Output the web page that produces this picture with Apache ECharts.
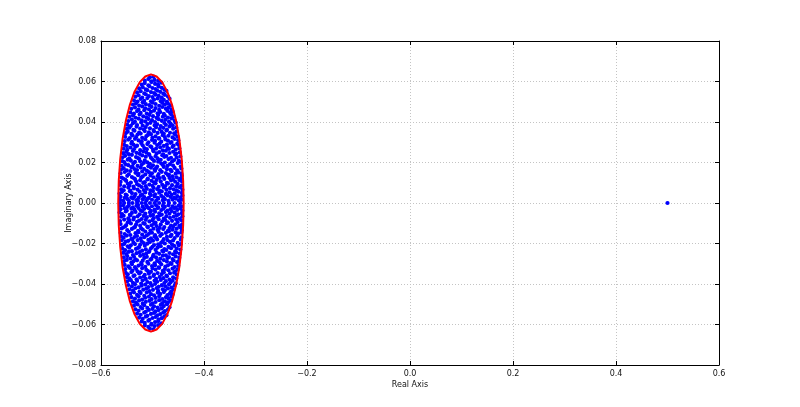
<!DOCTYPE html>
<html>
<head>
<meta charset="utf-8">
<script src="https://cdn.jsdelivr.net/npm/echarts@6/dist/echarts.min.js"></script>
<style>
  html, body { margin: 0; padding: 0; background: #fff; }
  #chart { width: 800px; height: 407px; }
</style>
</head>
<body>
<div id="chart"></div>
<script>
// ---- Data ----
const xTicks = [-0.6, -0.4, -0.2, 0.0, 0.2, 0.4, 0.6];
const yTicks = [-0.08, -0.06, -0.04, -0.02, 0.0, 0.02, 0.04, 0.06, 0.08];
const xAxisTitle = 'Real Axis';
const yAxisTitle = 'Imaginary Axis';

// eigenvalues lying on the real axis (imaginary part 0)
const realAxisEigs = [-.563, -.555, -.546, -.539, -.530, -.521, -.514, -.505, -.496, -.487, -.478, -.468, -.457, -.446];

// complex eigenvalues, upper half plane [real, imag]; their conjugates form the lower half
const upperEigs = [
[-.563,.0015],[-.557,.0011],[-.549,.0020],[-.546,.0013],[-.538,.0022],[-.531,.0014],[-.528,.0010],[-.519,.0018],[-.512,.0012],[-.509,.0022],[-.501,.0016],[-.493,.0011],[-.489,.0021],[-.480,.0014],[-.476,.0019],[-.469,.0011],[-.461,.0017],[-.455,.0022],[-.449,.0013],[-.443,.0016],
[-.562,.0031],[-.554,.0026],[-.550,.0038],[-.541,.0028],[-.535,.0033],[-.527,.0025],[-.523,.0036],[-.516,.0029],[-.507,.0026],[-.503,.0039],[-.496,.0032],[-.490,.0025],[-.483,.0035],[-.479,.0028],[-.471,.0038],[-.465,.0030],[-.458,.0025],[-.452,.0034],[-.446,.0027],[-.442,.0037],
[-.564,.0047],[-.559,.0055],[-.552,.0042],[-.544,.0058],[-.540,.0049],[-.533,.0044],[-.525,.0056],[-.520,.0041],[-.514,.0052],[-.505,.0046],[-.499,.0059],[-.495,.0043],[-.487,.0051],[-.482,.0057],[-.474,.0045],[-.467,.0053],[-.463,.0040],[-.457,.0048],[-.450,.0056],[-.443,.0050],
[-.561,.0068],[-.556,.0063],[-.547,.0076],[-.543,.0061],[-.536,.0072],[-.529,.0066],[-.521,.0079],[-.517,.0064],[-.511,.0070],[-.504,.0062],[-.498,.0075],[-.491,.0069],[-.486,.0061],[-.478,.0077],[-.473,.0065],[-.466,.0073],[-.459,.0068],[-.453,.0062],[-.447,.0078],[-.442,.0066],
[-.563,.0089],[-.555,.0082],[-.548,.0095],[-.545,.0086],[-.537,.0081],[-.530,.0093],[-.526,.0087],[-.518,.0099],[-.513,.0083],[-.506,.0091],[-.500,.0085],[-.494,.0097],[-.488,.0080],[-.481,.0090],[-.475,.0084],[-.470,.0096],[-.462,.0088],[-.454,.0082],[-.451,.0094],[-.443,.0087],
[-.562,.0104],[-.553,.0115],[-.551,.0109],[-.542,.0101],[-.534,.0118],[-.532,.0107],[-.524,.0112],[-.515,.0103],[-.510,.0116],[-.502,.0110],[-.497,.0102],[-.492,.0114],[-.484,.0106],[-.477,.0119],[-.472,.0100],[-.464,.0111],[-.460,.0117],[-.456,.0105],[-.448,.0113],[-.443,.0108],
[-.560,.0126],[-.557,.0121],[-.549,.0134],[-.540,.0128],[-.536,.0122],[-.528,.0137],[-.522,.0125],[-.519,.0131],[-.509,.0120],[-.504,.0136],[-.498,.0127],[-.490,.0133],[-.486,.0123],[-.479,.0129],[-.470,.0138],[-.467,.0124],[-.461,.0132],[-.453,.0127],[-.446,.0121],[-.443,.0135],
[-.562,.0147],[-.554,.0153],[-.546,.0142],[-.543,.0158],[-.533,.0149],[-.527,.0144],[-.520,.0156],[-.514,.0141],[-.507,.0152],[-.501,.0147],[-.495,.0159],[-.488,.0143],[-.482,.0154],[-.474,.0148],[-.468,.0140],[-.463,.0157],[-.455,.0145],[-.450,.0151],[-.444,.0146],
[-.561,.0165],[-.556,.0172],[-.550,.0161],[-.541,.0177],[-.535,.0168],[-.530,.0163],[-.523,.0175],[-.516,.0169],[-.511,.0160],[-.503,.0174],[-.496,.0166],[-.493,.0171],[-.485,.0162],[-.478,.0178],[-.472,.0167],[-.465,.0164],[-.457,.0173],[-.452,.0161],[-.444,.0170],
[-.560,.0184],[-.552,.0191],[-.547,.0187],[-.539,.0181],[-.537,.0196],[-.529,.0183],[-.521,.0189],[-.517,.0198],[-.508,.0182],[-.505,.0193],[-.499,.0186],[-.491,.0180],[-.483,.0195],[-.480,.0188],[-.471,.0183],[-.466,.0192],[-.460,.0185],[-.451,.0197],[-.445,.0181],
[-.559,.0207],[-.555,.0202],[-.548,.0214],[-.542,.0209],[-.534,.0203],[-.526,.0218],[-.524,.0206],[-.515,.0211],[-.510,.0201],[-.500,.0216],[-.497,.0208],[-.489,.0204],[-.484,.0213],[-.476,.0200],[-.469,.0217],[-.462,.0205],[-.458,.0212],[-.449,.0209],[-.445,.0203],
[-.558,.0226],[-.553,.0233],[-.545,.0221],[-.540,.0238],[-.532,.0227],[-.528,.0222],[-.520,.0235],[-.513,.0229],[-.506,.0237],[-.503,.0224],[-.494,.0231],[-.490,.0220],[-.481,.0236],[-.477,.0228],[-.473,.0232],[-.464,.0223],[-.456,.0239],[-.453,.0225],[-.446,.0230],
[-.557,.0246],[-.551,.0252],[-.546,.0241],[-.538,.0257],[-.531,.0248],[-.525,.0243],[-.518,.0255],[-.512,.0249],[-.507,.0242],[-.498,.0256],[-.492,.0245],[-.487,.0251],[-.479,.0240],[-.474,.0258],[-.467,.0247],[-.460,.0253],[-.454,.0244],[-.447,.0250],
[-.556,.0268],[-.549,.0262],[-.543,.0274],[-.536,.0265],[-.533,.0278],[-.524,.0261],[-.516,.0271],[-.511,.0266],[-.502,.0276],[-.499,.0263],[-.493,.0269],[-.485,.0275],[-.480,.0260],[-.471,.0272],[-.468,.0267],[-.461,.0277],[-.455,.0264],[-.448,.0270],
[-.555,.0287],[-.550,.0281],[-.541,.0294],[-.537,.0288],[-.530,.0283],[-.522,.0296],[-.519,.0285],[-.510,.0291],[-.504,.0280],[-.496,.0298],[-.491,.0286],[-.486,.0293],[-.478,.0282],[-.472,.0289],[-.465,.0297],[-.459,.0284],[-.452,.0292],[-.449,.0287],
[-.554,.0306],[-.547,.0313],[-.540,.0302],[-.534,.0317],[-.527,.0309],[-.521,.0304],[-.514,.0315],[-.508,.0300],[-.501,.0311],[-.495,.0307],[-.488,.0318],[-.483,.0303],[-.475,.0314],[-.470,.0308],[-.463,.0301],[-.457,.0316],[-.450,.0310],
[-.553,.0327],[-.544,.0321],[-.539,.0334],[-.532,.0325],[-.529,.0338],[-.520,.0322],[-.512,.0330],[-.509,.0336],[-.500,.0323],[-.494,.0329],[-.487,.0320],[-.480,.0335],[-.476,.0326],[-.469,.0332],[-.461,.0324],[-.456,.0337],[-.451,.0328],
[-.552,.0345],[-.548,.0352],[-.541,.0341],[-.535,.0357],[-.526,.0348],[-.523,.0343],[-.515,.0355],[-.507,.0349],[-.503,.0340],[-.497,.0354],[-.490,.0346],[-.482,.0351],[-.478,.0342],[-.473,.0358],[-.466,.0347],[-.458,.0344],[-.453,.0353],
[-.550,.0366],[-.545,.0372],[-.537,.0361],[-.531,.0377],[-.524,.0368],[-.517,.0363],[-.513,.0375],[-.505,.0369],[-.498,.0360],[-.493,.0374],[-.486,.0365],[-.479,.0371],[-.472,.0362],[-.467,.0378],[-.460,.0367],[-.454,.0373],
[-.549,.0387],[-.542,.0381],[-.538,.0394],[-.530,.0385],[-.522,.0398],[-.519,.0382],[-.510,.0390],[-.504,.0396],[-.496,.0383],[-.491,.0389],[-.484,.0380],[-.477,.0395],[-.474,.0386],[-.465,.0392],[-.461,.0384],[-.455,.0397],
[-.547,.0405],[-.540,.0412],[-.534,.0401],[-.527,.0417],[-.521,.0408],[-.514,.0403],[-.508,.0415],[-.501,.0409],[-.495,.0400],[-.488,.0414],[-.482,.0406],[-.475,.0411],[-.468,.0402],[-.463,.0418],[-.457,.0407],
[-.545,.0426],[-.538,.0432],[-.533,.0421],[-.525,.0437],[-.518,.0428],[-.512,.0423],[-.506,.0435],[-.499,.0429],[-.492,.0420],[-.489,.0434],[-.480,.0426],[-.476,.0431],[-.470,.0422],[-.464,.0438],[-.459,.0427],
[-.543,.0447],[-.536,.0441],[-.530,.0454],[-.523,.0445],[-.516,.0458],[-.511,.0442],[-.503,.0450],[-.497,.0456],[-.490,.0443],[-.485,.0449],[-.478,.0440],[-.471,.0455],[-.466,.0446],[-.461,.0452],
[-.541,.0465],[-.534,.0472],[-.527,.0461],[-.520,.0477],[-.514,.0468],[-.507,.0463],[-.502,.0475],[-.494,.0469],[-.487,.0460],[-.481,.0474],[-.474,.0466],[-.469,.0471],[-.463,.0462],
[-.538,.0486],[-.532,.0492],[-.526,.0481],[-.519,.0497],[-.513,.0488],[-.506,.0483],[-.500,.0495],[-.494,.0489],[-.487,.0480],[-.481,.0494],[-.476,.0486],[-.470,.0491],[-.465,.0482],
[-.536,.0507],[-.529,.0501],[-.523,.0514],[-.516,.0505],[-.510,.0518],[-.503,.0502],[-.497,.0510],[-.490,.0516],[-.484,.0503],[-.478,.0509],[-.472,.0500],[-.467,.0515],
[-.533,.0525],[-.527,.0532],[-.520,.0521],[-.513,.0537],[-.507,.0528],[-.500,.0523],[-.494,.0535],[-.488,.0529],[-.482,.0520],[-.476,.0534],[-.470,.0526],
[-.530,.0546],[-.523,.0552],[-.516,.0541],[-.510,.0557],[-.503,.0548],[-.497,.0543],[-.491,.0555],[-.485,.0549],[-.479,.0540],[-.473,.0554],
[-.526,.0566],[-.519,.0572],[-.513,.0561],[-.506,.0577],[-.500,.0568],[-.494,.0563],[-.488,.0575],[-.482,.0569],[-.477,.0560],
[-.521,.0585],[-.515,.0592],[-.508,.0581],[-.502,.0597],[-.495,.0588],[-.489,.0583],[-.483,.0594],
[-.515,.0605],[-.508,.0612],[-.502,.0601],[-.496,.0608],[-.489,.0603],
[-.505,.0621],[-.498,.0624]
];

// isolated eigenvalue
const outlierReal = [0.5];
const outlierImag = [0.0];

// red boundary curve (points traced along the ellipse in the picture)
const boundaryReal = [-.4395,-.4405,-.4433,-.4480,-.4544,-.4622,-.4713,-.4813,-.4920,-.5030,-.5140,-.5247,-.5348,-.5438,-.5516,-.5580,-.5627,-.5655,-.5665,
  -.5655,-.5627,-.5580,-.5516,-.5438,-.5348,-.5247,-.5140,-.5030,-.4920,-.4813,-.4713,-.4622,-.4544,-.4480,-.4433,-.4405,-.4395];
const boundaryImag = [0,.0110,.0217,.0318,.0408,.0486,.0550,.0597,.0625,.0635,.0625,.0597,.0550,.0486,.0408,.0318,.0217,.0110,0,
  -.0110,-.0217,-.0318,-.0408,-.0486,-.0550,-.0597,-.0625,-.0635,-.0625,-.0597,-.0550,-.0486,-.0408,-.0318,-.0217,-.0110,0];

// ---- Build series data ----
const eigPoints = [];
realAxisEigs.forEach(re => eigPoints.push([re, 0]));
upperEigs.forEach(([re, im]) => { eigPoints.push([re, im]); eigPoints.push([re, -im]); }); // conjugate pairs
outlierReal.forEach((re, i) => eigPoints.push([re, outlierImag[i]]));
const boundaryPoints = boundaryReal.map((re, i) => [re, boundaryImag[i]]);

const MINUS = '\u2212';
function fmt(v, d) {
  if (Math.abs(v) < 1e-9) v = 0;
  const s = v.toFixed(d);
  return s.charAt(0) === '-' ? MINUS + s.slice(1) : s;
}

const FONT = 'DejaVu Sans';
const labelStyle = { color: '#111', fontSize: 8, fontFamily: FONT };
const gridLine = { show: true, lineStyle: { color: '#c4c4c4', width: 1, type: [1, 2] } };
const spine = { show: true, onZero: false, lineStyle: { color: '#000', width: 1 } };
const tick = { show: true, inside: true, length: 4, lineStyle: { color: '#000', width: 1 } };

const chart = echarts.init(document.getElementById('chart'), null, { renderer: 'canvas' });
chart.setOption({
  animation: false,
  backgroundColor: '#ffffff',
  grid: { left: 101, top: 41, width: 618, height: 324, containLabel: false },
  xAxis: [
    {
      type: 'value', position: 'bottom',
      min: xTicks[0], max: xTicks[xTicks.length - 1], interval: 0.2,
      axisLine: spine, axisTick: tick, splitLine: gridLine,
      axisLabel: Object.assign({ margin: 5, formatter: v => fmt(v, 1), showMinLabel: true, showMaxLabel: true }, labelStyle),
      name: xAxisTitle, nameLocation: 'middle', nameGap: 16, nameMoveOverlap: false,
      nameTextStyle: { color: '#111', fontSize: 8, fontFamily: FONT }
    },
    {
      type: 'value', position: 'top',
      min: xTicks[0], max: xTicks[xTicks.length - 1], interval: 0.2,
      axisLine: spine, axisTick: tick, splitLine: { show: false }, axisLabel: { show: false }
    }
  ],
  yAxis: [
    {
      type: 'value', position: 'left',
      min: yTicks[0], max: yTicks[yTicks.length - 1], interval: 0.02,
      axisLine: spine, axisTick: tick, splitLine: gridLine,
      axisLabel: Object.assign({ margin: 5, formatter: v => fmt(v, 2), showMinLabel: true, showMaxLabel: true }, labelStyle),
      name: yAxisTitle, nameLocation: 'middle', nameGap: 28, nameMoveOverlap: false,
      nameTextStyle: { color: '#111', fontSize: 8, fontFamily: FONT }
    },
    {
      type: 'value', position: 'right',
      min: yTicks[0], max: yTicks[yTicks.length - 1], interval: 0.02,
      axisLine: spine, axisTick: tick, splitLine: { show: false }, axisLabel: { show: false }
    }
  ],
  series: [
    {
      type: 'scatter', xAxisIndex: 0, yAxisIndex: 0,
      data: eigPoints, symbol: 'circle', symbolSize: 4.2,
      itemStyle: { color: '#0000ff', opacity: 1 }, z: 2, silent: true
    },
    {
      type: 'line', xAxisIndex: 0, yAxisIndex: 0,
      data: boundaryPoints, showSymbol: false, smooth: false,
      lineStyle: { color: '#ff0000', width: 2 }, z: 3, silent: true
    }
  ]
});
</script>
</body>
</html>
